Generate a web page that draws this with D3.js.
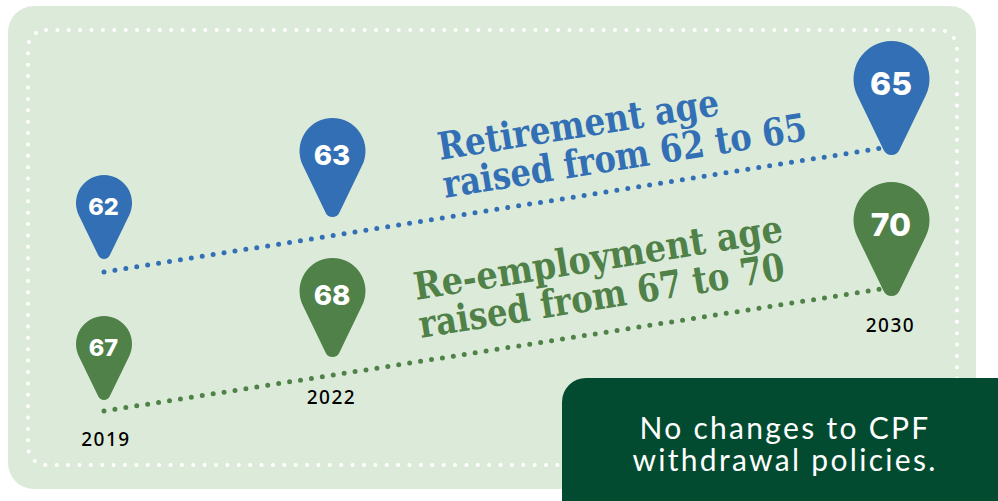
<!DOCTYPE html>
<html>
<head>
<meta charset="utf-8">
<script src="https://cdn.jsdelivr.net/npm/d3@7"></script>
<style>
html,body{margin:0;padding:0;background:#fff;overflow:hidden}
svg{display:block}
</style>
</head>
<body>
<svg id="chart" width="998" height="501"></svg>
<script>
// Milestone years and the age that applies from each one
const years = [2019, 2022, 2030];
const retirementAges = [62, 63, 65];
const reemploymentAges = [67, 68, 70];
const headlines = {
  retirement: ["Retirement age", "raised from 62 to 65"],
  reemployment: ["Re-employment age", "raised from 67 to 70"]
};
const calloutLines = ["No changes to CPF", "withdrawal policies."];

const BLUE = "#336fb5", GREEN = "#508148", PANEL = "#dcebd9", DARK = "#024b31";
const svg = d3.select("#chart");

// Horizontal placement and pin size both step by milestone
const x = d3.scaleLinear().domain(years).range([104, 332.5, 891.5]);
const pinWidth = d3.scaleLinear().domain(years).range([56, 66, 76]);
const yearLabelY = d3.scaleLinear().domain(years).range([439, 397, 325]);

// Pin tips, per series
const tipRetirement = d3.scaleLinear().domain(retirementAges).range([259, 217, 155]);
const tipReemployment = d3.scaleLinear().domain(reemploymentAges).range([400, 357, 296]);

// The dotted trend lines run straight from first to last milestone
const trendRetirement = d3.scaleLinear().domain([62, 65]).range([272, 146.4]);
const trendReemployment = d3.scaleLinear().domain([67, 70]).range([411, 287.4]);

// Background panel and its dotted inner border
svg.append("rect").attr("x", 8).attr("y", 6).attr("width", 968).attr("height", 483)
  .attr("rx", 26).attr("fill", PANEL);
svg.append("rect").attr("x", 28).attr("y", 30).attr("width", 929).attr("height", 435)
  .attr("rx", 18).attr("fill", "none").attr("stroke", "#fff")
  .attr("stroke-width", 4).attr("stroke-linecap", "round")
  .attr("stroke-dasharray", "0 11.38");

// Teardrop with its tip at the origin
function pinPath(w) {
  const h = w * 1.5, r = w / 2, tr = w * 0.115;
  const cy = -h + r, ty = -tr;
  const a = Math.asin((r - tr) / (ty - cy));
  const p = d3.path();
  p.moveTo(-r * Math.cos(a), cy + r * Math.sin(a));
  p.arc(0, cy, r, Math.PI - a, a, false);
  p.lineTo(tr * Math.cos(a), ty + tr * Math.sin(a));
  p.arc(0, ty, tr, a, Math.PI - a, false);
  p.closePath();
  return p.toString();
}

function drawSeries(ages, tip, trend, color) {
  const first = ages[0], last = ages[ages.length - 1];
  const points = [[years[0], first], [years[years.length - 1], last]];
  const line = d3.line().x(d => x(d[0])).y(d => trend(d[1]));
  svg.append("path").attr("d", line(points)).attr("fill", "none")
    .attr("stroke", color).attr("stroke-width", 5)
    .attr("stroke-linecap", "round").attr("stroke-dasharray", "0 11.05");

  const pins = svg.append("g").selectAll("g").data(years.map((yr, i) => ({ yr, age: ages[i] })))
    .join("g").attr("transform", d => `translate(${x(d.yr)},${tip(d.age)})`);
  pins.append("path").attr("d", d => pinPath(pinWidth(d.yr))).attr("fill", color);
  pins.append("text")
    .attr("x", -0.5)
    .attr("y", d => -pinWidth(d.yr) * 1.5 * 0.63)
    .attr("dy", "0.36em").attr("text-anchor", "middle")
    .attr("font-family", "Inter").attr("font-weight", 800)
    .attr("font-size", d => pinWidth(d.yr) * 0.42).attr("fill", "#fff")
    .text(d => d.age);
}

drawSeries(retirementAges, tipRetirement, trendRetirement, BLUE);
drawSeries(reemploymentAges, tipReemployment, trendReemployment, GREEN);

// Year captions under the lower series
svg.append("g").selectAll("text").data(years).join("text")
  .attr("x", (d, i) => x(d) + [2, -1, -1][i]).attr("y", d => yearLabelY(d)).attr("dy", "0.36em")
  .attr("text-anchor", "middle").attr("font-family", "'Noto Sans'").attr("font-weight", 500)
  .attr("font-size", 19).attr("letter-spacing", 1.5).attr("fill", "#000").text(d => d);

// Slanted headlines follow the slope of the trend lines
function headline(lines, x0, y0, x1, y1, color, lens) {
  [[x0, y0], [x1, y1]].forEach(([px, py], i) => {
    svg.append("text")
      .attr("transform", `translate(${px},${py}) rotate(-9.1)`)
      .attr("font-family", "'DejaVu Serif Condensed','DejaVu Serif'").attr("font-weight", 700)
      .attr("font-size", 38).attr("fill", color)
      .attr("textLength", lens[i]).attr("lengthAdjust", "spacingAndGlyphs")
      .text(lines[i]);
  });
}
headline(headlines.retirement, 440, 160, 445, 198, BLUE, [284, 368]);
headline(headlines.reemployment, 416, 300, 421, 338, GREEN, [373, 370]);

// Callout box bleeding off the lower right corner
svg.append("rect").attr("x", 562).attr("y", 378).attr("width", 470).attr("height", 170)
  .attr("rx", 24).attr("fill", DARK);
svg.append("text")
  .attr("text-anchor", "middle").attr("font-family", "Lato").attr("font-weight", 400)
  .attr("font-size", 30).attr("letter-spacing", 2.3).attr("fill", "#fff")
  .selectAll("tspan").data(calloutLines).join("tspan")
  .attr("x", 785).attr("y", (d, i) => 439 + i * 32).text(d => d);
</script>
</body>
</html>
